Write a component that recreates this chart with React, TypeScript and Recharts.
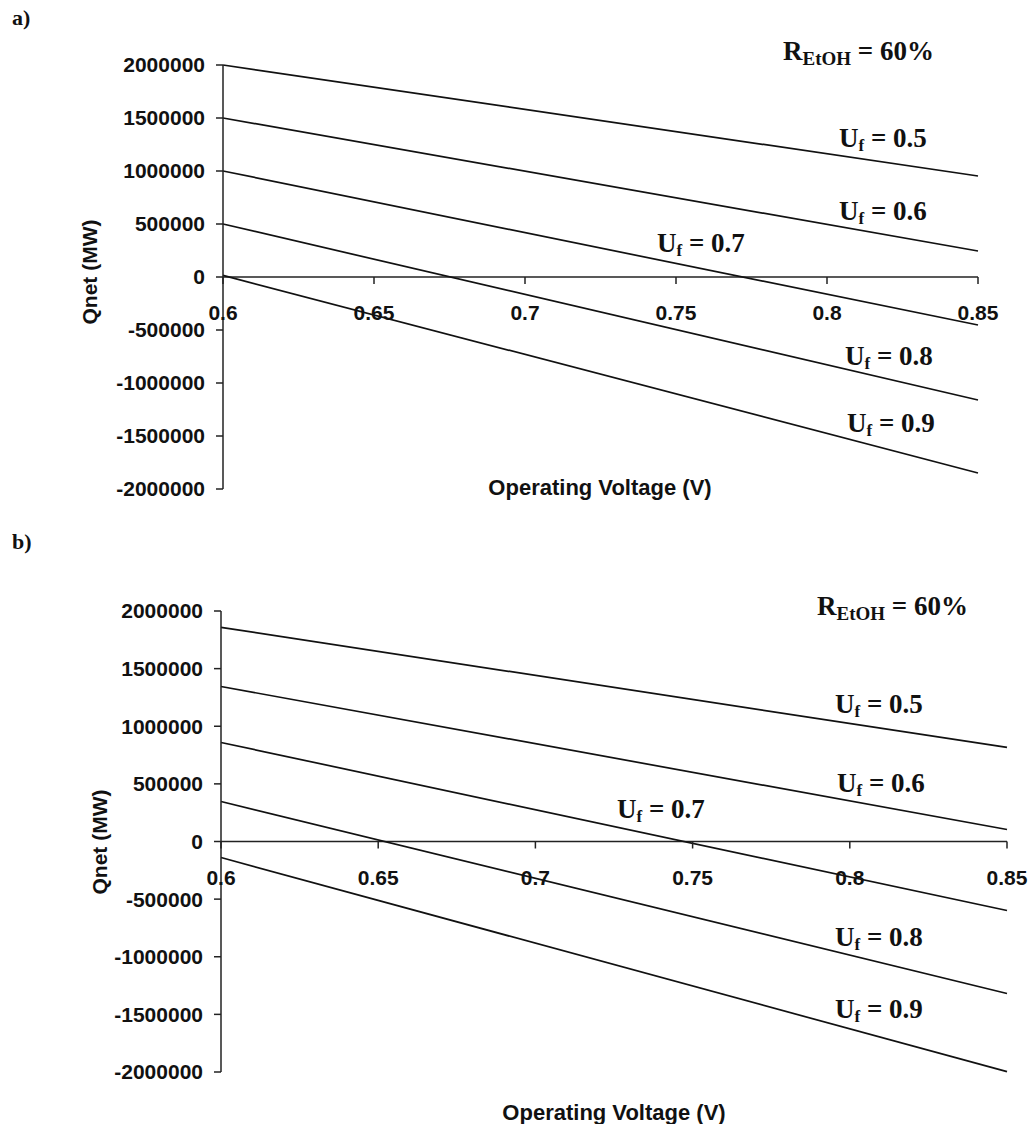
import React from "react"
import { Line, LineChart, ReferenceLine, XAxis, YAxis } from "recharts"

// operating voltage (V) at the two ends of every line
const voltage = [0.6, 0.85]
const xTicks = [0.6, 0.65, 0.7, 0.75, 0.8, 0.85]
const yTicks = [-2000000, -1500000, -1000000, -500000, 0, 500000, 1000000, 1500000, 2000000]
const fuelUtil = ["0.5", "0.6", "0.7", "0.8", "0.9"]

// panel a) Qnet (MW)
const qnetA05 = [2000000, 953000]
const qnetA06 = [1500000, 245000]
const qnetA07 = [1000000, -453000]
const qnetA08 = [500000, -1160000]
const qnetA09 = [15000, -1849000]

// panel b) Qnet (MW)
const qnetB05 = [1858000, 816000]
const qnetB06 = [1345000, 104000]
const qnetB07 = [859000, -599000]
const qnetB08 = [347000, -1319000]
const qnetB09 = [-139000, -1997000]

const buildRows = (series: number[][]) =>
    voltage.map((v, i) => {
        const row: any = { v }
        series.forEach((s, k) => { row["u" + k] = s[i] })
        return row
    })

const dataA = buildRows([qnetA05, qnetA06, qnetA07, qnetA08, qnetA09])
const dataB = buildRows([qnetB05, qnetB06, qnetB07, qnetB08, qnetB09])

const sans = "'Liberation Sans', Arial, sans-serif"
const serif = "'Liberation Serif', 'Times New Roman', serif"
const ink = "#111"
const X_AXIS_H = 30

// x axis is drawn through y = 0 (Excel style), so ticks are shifted up from the plot bottom
const makeXTick = (zeroY: number) => (props: any) => {
    const { x, payload } = props
    return (
        <g>
            <line x1={x} x2={x} y1={zeroY} y2={zeroY + 7} stroke="#222" strokeWidth={1.5} />
            <text x={x} y={zeroY + 43} textAnchor="middle" fill={ink}
                style={{ fontFamily: sans, fontSize: 21, fontWeight: "bold" }}>
                {payload.value}
            </text>
        </g>
    )
}

const Uf = ({ x, y, value }: { x: number, y: number, value: string }) => (
    <text x={x} y={y} fill={ink} style={{ fontFamily: serif, fontSize: 27, fontWeight: "bold" }}>
        <tspan>U</tspan>
        <tspan fontSize={17} dy={4}>f</tspan>
        <tspan dy={-4}>{" = " + value}</tspan>
    </text>
)

const Ratio = ({ x, y }: { x: number, y: number }) => (
    <text x={x} y={y} fill={ink} style={{ fontFamily: serif, fontSize: 27, fontWeight: "bold" }}>
        <tspan>R</tspan>
        <tspan fontSize={19} dy={5}>EtOH</tspan>
        <tspan dy={-5}>{" = 60%"}</tspan>
    </text>
)

const Panel = ({ data, tag, width, height, margin, yWidth, notes, ratioPos, tagY, xTitle, yTitle }: any) => {
    const plotH = height - margin.top - margin.bottom - X_AXIS_H
    const zeroY = margin.top + plotH * 0.5
    return (
        <LineChart width={width} height={height} data={data} margin={margin}>
            <XAxis dataKey="v" type="number" domain={[0.6, 0.85]} ticks={xTicks} height={X_AXIS_H}
                axisLine={false} tickLine={false} tick={makeXTick(zeroY)} interval={0} />
            <YAxis type="number" domain={[-2000000, 2000000]} ticks={yTicks} width={yWidth}
                interval={0} tickSize={7} tickMargin={11}
                axisLine={{ stroke: "#222", strokeWidth: 1.5 }} tickLine={{ stroke: "#222", strokeWidth: 1.5 }}
                tick={{ fill: ink, fontSize: 21, fontWeight: "bold", fontFamily: sans }} />
            <ReferenceLine y={0} stroke="#222" strokeWidth={1.5} />
            {fuelUtil.map((u, k) => (
                <Line key={u} type="linear" dataKey={"u" + k} stroke={ink} strokeWidth={1.7}
                    dot={false} isAnimationActive={false} />
            ))}
            <text x={12} y={tagY} fill={ink} style={{ fontFamily: serif, fontSize: 22, fontWeight: "bold" }}>{tag}</text>
            <text x={xTitle[0]} y={xTitle[1]} textAnchor="middle" dominantBaseline="central" fill={ink}
                style={{ fontFamily: sans, fontSize: 22, fontWeight: "bold" }}>Operating Voltage (V)</text>
            <text x={yTitle[0]} y={yTitle[1]} textAnchor="middle" dominantBaseline="central" fill={ink}
                transform={`rotate(-90 ${yTitle[0]} ${yTitle[1]})`}
                style={{ fontFamily: sans, fontSize: 21, fontWeight: "bold" }}>Qnet (MW)</text>
            <Ratio x={ratioPos[0]} y={ratioPos[1]} />
            {fuelUtil.map((u, k) => (
                <Uf key={"n" + u} x={notes[k][0]} y={notes[k][1]} value={u} />
            ))}
        </LineChart>
    )
}

// label anchors (px inside each panel)
const notesA = [[839, 147], [839, 220], [657, 252], [845, 365], [847, 432]]
const notesB = [[835, 183], [837, 262], [617, 288], [835, 416], [835, 488]]

export default function App() {
    return (
        <div style={{ position: "absolute", left: 0, top: 0, width: 1030, height: 1124, background: "#fff" }}>
            <div style={{ position: "absolute", left: 0, top: 0 }}>
                <Panel data={dataA} tag="a)" width={1030} height={530}
                    margin={{ top: 65, right: 52, bottom: 41 - X_AXIS_H, left: 0 }} yWidth={223}
                    notes={notesA} ratioPos={[783, 60]} tagY={25} xTitle={[600, 487]} yTitle={[89, 272]} />
            </div>
            <div style={{ position: "absolute", left: 0, top: 530 }}>
                <Panel data={dataB} tag="b)" width={1030} height={594}
                    margin={{ top: 81, right: 23, bottom: 52 - X_AXIS_H, left: 0 }} yWidth={221}
                    notes={notesB} ratioPos={[817, 85]} tagY={19} xTitle={[614, 582]} yTitle={[99, 312]} />
            </div>
        </div>
    )
}
